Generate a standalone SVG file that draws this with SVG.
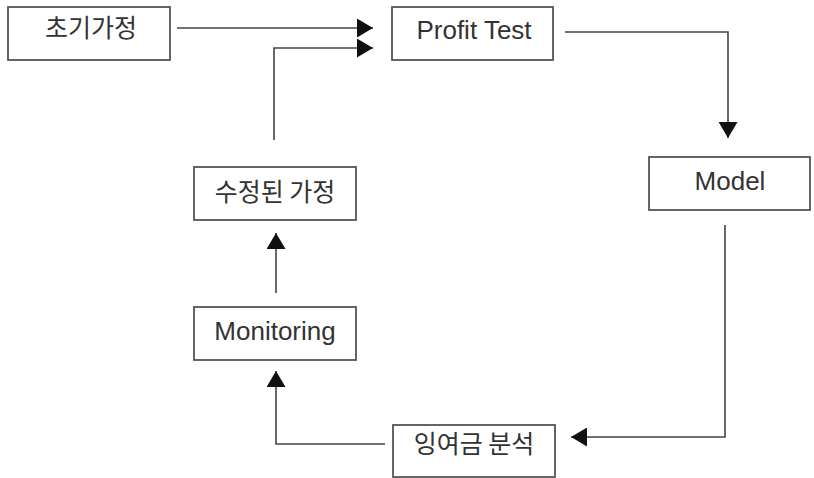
<svg xmlns="http://www.w3.org/2000/svg" width="814" height="478" viewBox="0 0 814 478">
<defs>
<marker id="ah" viewBox="0 0 16 19" refX="16" refY="9.5" markerWidth="16" markerHeight="19" markerUnits="userSpaceOnUse" orient="auto">
<path d="M0,0 L16,9.5 L0,19 Z" fill="#111"/>
</marker>
<style>
.box{fill:#fff;stroke:#555;stroke-width:1.8}
.lbl{font-family:"Liberation Sans","Noto Sans CJK KR",sans-serif;font-size:26px;fill:#333;text-anchor:middle}
.ko{font-family:"Noto Sans CJK KR",sans-serif;font-size:25px;fill:#333;text-anchor:middle}
.con{fill:none;stroke:#444;stroke-width:1.6}
</style>
</defs>
<rect width="814" height="478" fill="#fff"/>
<g id="connectors">
<path class="con" d="M177,28 H373" marker-end="url(#ah)"/>
<path class="con" d="M274,140 V48 H373" marker-end="url(#ah)"/>
<path class="con" d="M565,32 H728 V138" marker-end="url(#ah)"/>
<path class="con" d="M725,225 V437 H571" marker-end="url(#ah)"/>
<path class="con" d="M385,444 H276 V371" marker-end="url(#ah)"/>
<path class="con" d="M276,293 V233" marker-end="url(#ah)"/>
</g>
<g id="n-initial">
<rect class="box" x="8" y="7" width="162" height="53"/>
<text class="ko" x="91" y="37">초기가정</text>
</g>
<g id="n-profit">
<rect class="box" x="392" y="7" width="161" height="53"/>
<text class="lbl" x="474" y="39">Profit Test</text>
</g>
<g id="n-model">
<rect class="box" x="649" y="157" width="161" height="53"/>
<text class="lbl" x="730" y="190">Model</text>
</g>
<g id="n-revised">
<rect class="box" x="194" y="167" width="162" height="53"/>
<text class="ko" x="275" y="201">수정된 가정</text>
</g>
<g id="n-monitoring">
<rect class="box" x="194" y="307" width="162" height="53"/>
<text class="lbl" x="275" y="340">Monitoring</text>
</g>
<g id="n-surplus">
<rect class="box" x="393" y="425" width="162" height="52"/>
<text class="ko" x="474" y="453">잉여금 분석</text>
</g>
</svg>
